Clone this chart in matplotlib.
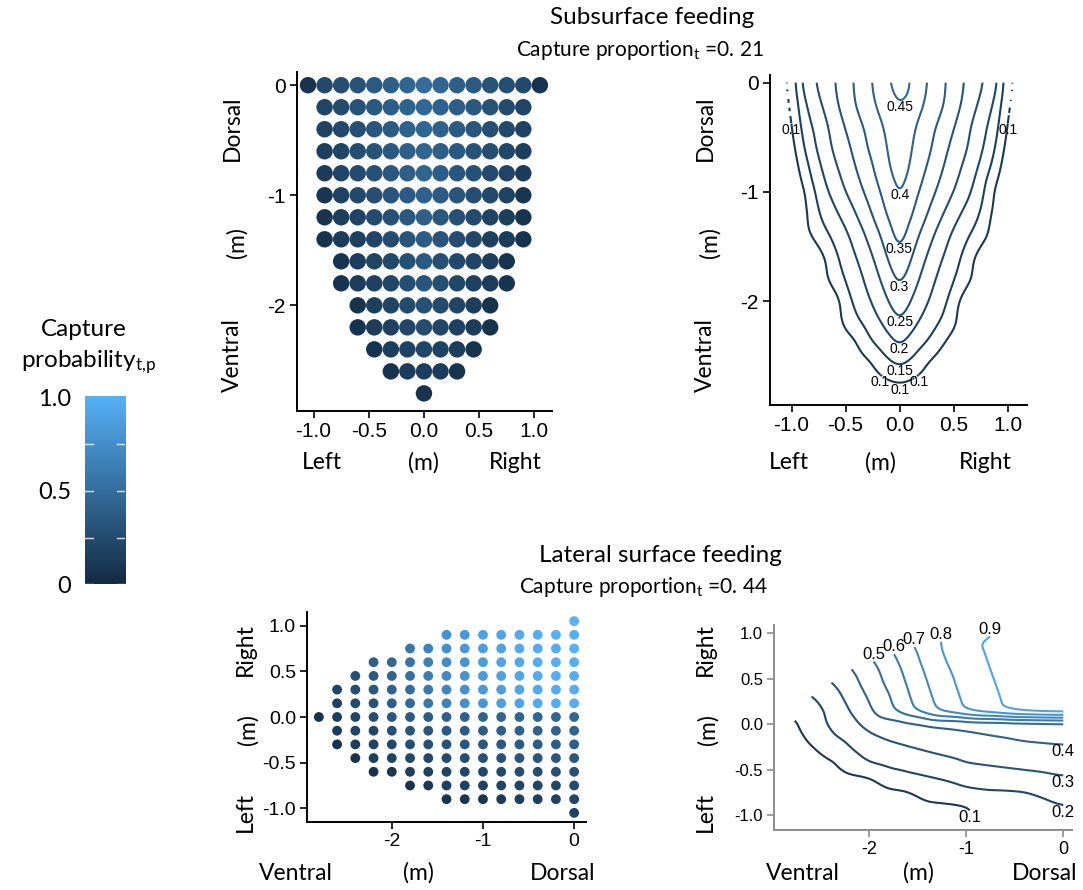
import matplotlib
matplotlib.use("Agg")
import matplotlib.pyplot as plt
import matplotlib.tri as mtri
from matplotlib.colors import LinearSegmentedColormap, Normalize
from matplotlib.path import Path
import numpy as np

N = None

# grid of prey positions around the mouth (m)
# depth: 0 = dorsal edge, negative = towards ventral
depth = [0.0, -0.2, -0.4, -0.6, -0.8, -1.0, -1.2, -1.4,
         -1.6, -1.8, -2.0, -2.2, -2.4, -2.6, -2.8]
# lateral: negative = left, positive = right
lateral = [-1.05, -0.9, -0.75, -0.6, -0.45, -0.3, -0.15, 0.0,
           0.15, 0.3, 0.45, 0.6, 0.75, 0.9, 1.05]

# capture probability, rows follow `depth`, columns follow `lateral`
subsurface_prob = [
    [0.06, 0.22, 0.26, 0.30, 0.345, 0.39, 0.43, 0.49, 0.43, 0.39, 0.345, 0.30, 0.26, 0.22, 0.06],
    [N, 0.19, 0.24, 0.29, 0.34, 0.38, 0.42, 0.45, 0.42, 0.38, 0.34, 0.29, 0.24, 0.19, N],
    [N, 0.17, 0.22, 0.27, 0.32, 0.36, 0.40, 0.44, 0.40, 0.36, 0.32, 0.27, 0.22, 0.17, N],
    [N, 0.15, 0.21, 0.26, 0.30, 0.35, 0.39, 0.435, 0.39, 0.35, 0.30, 0.26, 0.21, 0.15, N],
    [N, 0.12, 0.19, 0.24, 0.285, 0.33, 0.38, 0.425, 0.38, 0.33, 0.285, 0.24, 0.19, 0.12, N],
    [N, 0.08, 0.17, 0.22, 0.265, 0.31, 0.36, 0.41, 0.36, 0.31, 0.265, 0.22, 0.17, 0.08, N],
    [N, 0.07, 0.15, 0.19, 0.235, 0.285, 0.34, 0.395, 0.34, 0.285, 0.235, 0.19, 0.15, 0.07, N],
    [N, 0.07, 0.125, 0.16, 0.205, 0.255, 0.31, 0.375, 0.31, 0.255, 0.205, 0.16, 0.125, 0.07, N],
    [N, N, 0.07, 0.14, 0.185, 0.23, 0.285, 0.345, 0.285, 0.23, 0.185, 0.14, 0.07, N, N],
    [N, N, 0.07, 0.125, 0.165, 0.21, 0.26, 0.315, 0.26, 0.21, 0.165, 0.125, 0.07, N, N],
    [N, N, N, 0.07, 0.15, 0.19, 0.235, 0.285, 0.235, 0.19, 0.15, 0.07, N, N, N],
    [N, N, N, 0.07, 0.13, 0.165, 0.205, 0.25, 0.205, 0.165, 0.13, 0.07, N, N, N],
    [N, N, N, N, 0.07, 0.135, 0.17, 0.205, 0.17, 0.135, 0.07, N, N, N, N],
    [N, N, N, N, N, 0.07, 0.125, 0.155, 0.125, 0.07, N, N, N, N, N],
    [N, N, N, N, N, N, N, 0.07, N, N, N, N, N, N, N],
]

lateral_prob = [
    [0.17, 0.20, 0.235, 0.29, 0.335, 0.38, 0.42, 0.45, 0.97, 0.97, 0.98, 0.98, 0.99, 0.99, 1.0],
    [N, 0.18, 0.215, 0.27, 0.33, 0.375, 0.415, 0.445, 0.96, 0.97, 0.97, 0.98, 0.98, 0.99, N],
    [N, 0.16, 0.195, 0.26, 0.32, 0.37, 0.41, 0.44, 0.94, 0.95, 0.95, 0.96, 0.97, 0.97, N],
    [N, 0.15, 0.19, 0.25, 0.31, 0.36, 0.40, 0.43, 0.905, 0.91, 0.92, 0.93, 0.935, 0.94, N],
    [N, 0.12, 0.19, 0.24, 0.30, 0.35, 0.39, 0.43, 0.86, 0.87, 0.88, 0.89, 0.90, 0.91, N],
    [N, 0.09, 0.18, 0.23, 0.29, 0.34, 0.38, 0.42, 0.81, 0.82, 0.84, 0.85, 0.86, 0.88, N],
    [N, 0.08, 0.16, 0.205, 0.26, 0.32, 0.37, 0.41, 0.74, 0.76, 0.77, 0.79, 0.81, 0.82, N],
    [N, 0.07, 0.15, 0.19, 0.24, 0.30, 0.35, 0.40, 0.66, 0.68, 0.70, 0.72, 0.74, 0.76, N],
    [N, N, 0.09, 0.18, 0.22, 0.28, 0.33, 0.38, 0.565, 0.59, 0.61, 0.63, 0.655, N, N],
    [N, N, 0.07, 0.16, 0.21, 0.26, 0.31, 0.36, 0.47, 0.49, 0.52, 0.54, 0.57, N, N],
    [N, N, N, 0.09, 0.19, 0.23, 0.28, 0.33, 0.385, 0.41, 0.44, 0.46, N, N, N],
    [N, N, N, 0.07, 0.15, 0.185, 0.22, 0.27, 0.30, 0.33, 0.36, 0.39, N, N, N],
    [N, N, N, N, 0.07, 0.14, 0.18, 0.21, 0.22, 0.25, 0.29, N, N, N, N],
    [N, N, N, N, N, 0.07, 0.12, 0.15, 0.16, 0.19, N, N, N, N, N],
    [N, N, N, N, N, N, N, 0.07, N, N, N, N, N, N, N],
]

subsurface_proportion = "0. 21"
lateral_proportion = "0. 44"
subsurface_levels = [0.1, 0.15, 0.2, 0.25, 0.3, 0.35, 0.4, 0.45]
lateral_levels = [0.1, 0.2, 0.3, 0.4, 0.5, 0.6, 0.7, 0.8, 0.9]

W, H = 1083, 890
LABEL_FONT = "Lato"

plt.rcParams["font.family"] = ["Liberation Sans", "DejaVu Sans"]
plt.rcParams["axes.unicode_minus"] = False
plt.rcParams["mathtext.default"] = "regular"

cmap = LinearSegmentedColormap.from_list("gg", ["#132B43", "#56B1F7"])
norm = Normalize(0, 1)


def flatten(table):
    lat, dep, val = [], [], []
    for d, row in zip(depth, table):
        for l, v in zip(lateral, row):
            if v is not None:
                lat.append(l)
                dep.append(d)
                val.append(v)
    return np.array(lat), np.array(dep), np.array(val)


def box(left, top, right, bottom):
    # pixel box -> figure fraction rectangle
    return [left / W, 1 - bottom / H, (right - left) / W, (bottom - top) / H]


def ftext(fig, px, py, s, size, **kw):
    kw.setdefault("family", LABEL_FONT)
    fig.text(px / W, 1 - py / H, s, fontsize=size, ha="center", va="center", **kw)


def style(ax, color, size):
    for side in ("top", "right"):
        ax.spines[side].set_visible(False)
    for side in ("left", "bottom"):
        ax.spines[side].set_color(color)
        ax.spines[side].set_linewidth(1.4)
    ax.tick_params(color=color, labelcolor="black", labelsize=size,
                   length=5, width=1.2, pad=3)


def blur(a, sigma):
    r = int(3 * sigma)
    k = np.exp(-0.5 * (np.arange(-r, r + 1) / sigma) ** 2)
    k /= k.sum()
    a = np.apply_along_axis(lambda v: np.convolve(v, k, mode="same"), 0, a)
    return np.apply_along_axis(lambda v: np.convolve(v, k, mode="same"), 1, a)


def smooth_contour(ax, x, y, z, levels, sigma=5, n=220):
    # linear interpolation on a fine grid, lightly smoothed inside the hull
    tri = mtri.Triangulation(x, y)
    gx = np.linspace(x.min(), x.max(), n)
    gy = np.linspace(y.min(), y.max(), n)
    X, Y = np.meshgrid(gx, gy)
    Z = mtri.LinearTriInterpolator(tri, z)(X, Y)
    inside = ~np.ma.getmaskarray(Z)
    num = blur(np.where(inside, Z.filled(0.0), 0.0), sigma)
    den = blur(inside.astype(float), sigma)
    Zs = np.ma.masked_where(~inside, num / np.maximum(den, 1e-9))
    return ax.contour(X, Y, Zs, levels=levels, cmap=cmap, norm=norm,
                      linewidths=1.5)


def pieces(path):
    v, c = path.vertices, path.codes
    if c is None:
        return [v]
    starts = list(np.flatnonzero(c == Path.MOVETO)) + [len(v)]
    return [v[a:b] for a, b in zip(starts[:-1], starts[1:]) if b - a > 1]


def label_pieces(ax, cs, where, size, min_gap=18):
    # one horizontal label per contour piece, at its lowest / highest / right-most point
    placed = []
    for level, path in zip(cs.levels, cs.get_paths()):
        for seg in pieces(path):
            if len(seg) < 6:
                continue
            mode = where(level)
            if mode == "bottom":
                i, va = np.argmin(seg[:, 1]), "top"
            elif mode == "top":
                i, va = np.argmax(seg[:, 1]), "bottom"
            else:
                i, va = np.argmax(seg[:, 0]), "top"
            px = ax.transData.transform(seg[i])
            if any(np.hypot(*(px - q)) < min_gap for q in placed):
                continue
            placed.append(px)
            ax.text(seg[i, 0], seg[i, 1], f"{level:g}", fontsize=size,
                    ha="center", va=va, color="black")


fig = plt.figure(figsize=(W / 100, H / 100), dpi=100)

sub_lat, sub_dep, sub_val = flatten(subsurface_prob)
lat_lat, lat_dep, lat_val = flatten(lateral_prob)

# ---- subsurface feeding: scatter
ax = fig.add_axes(box(297, 72, 552, 411))
ax.scatter(sub_lat, sub_dep, c=sub_val, cmap=cmap, norm=norm, s=140, linewidths=0)
ax.set_xlim(-1.15, 1.16)
ax.set_ylim(-2.96, 0.12)
ax.set_xticks([-1.0, -0.5, 0.0, 0.5, 1.0], ["-1.0", "-0.5", "0.0", "0.5", "1.0"])
ax.set_yticks([0, -1, -2], ["0", "-1", "-2"])
style(ax, "black", 15)

# ---- subsurface feeding: contours
ax = fig.add_axes(box(770, 75, 1027, 405))
ax.set_xlim(-1.2, 1.18)
ax.set_ylim(-2.95, 0.07)
cs = smooth_contour(ax, sub_lat, sub_dep, sub_val, subsurface_levels)
label_pieces(ax, cs, lambda v: "bottom", 10)
ax.set_xticks([-1.0, -0.5, 0.0, 0.5, 1.0], ["-1.0", "-0.5", "0.0", "0.5", "1.0"])
ax.set_yticks([0, -1, -2], ["0", "-1", "-2"])
style(ax, "black", 15)

# ---- lateral surface feeding: scatter
ax = fig.add_axes(box(307, 612, 586, 822))
ax.scatter(lat_dep, lat_lat, c=lat_val, cmap=cmap, norm=norm, s=50, linewidths=0)
ax.set_xlim(-2.93, 0.13)
ax.set_ylim(-1.15, 1.15)
ax.set_xticks([-2, -1, 0], ["-2", "-1", "0"])
ax.set_yticks([-1.0, -0.5, 0.0, 0.5, 1.0], ["-1.0", "-0.5", "0.0", "0.5", "1.0"])
style(ax, "black", 14)

# ---- lateral surface feeding: contours
ax = fig.add_axes(box(774, 625, 1072, 830))
ax.set_xlim(-2.98, 0.09)
ax.set_ylim(-1.16, 1.09)
cs = smooth_contour(ax, lat_dep, lat_lat, lat_val, lateral_levels, sigma=4)
label_pieces(ax, cs, lambda v: "top" if v >= 0.5 else "right", 12)
ax.set_xticks([-2, -1, 0], ["-2", "-1", "0"])
ax.set_yticks([-1.0, -0.5, 0.0, 0.5, 1.0], ["-1.0", "-0.5", "0.0", "0.5", "1.0"])
style(ax, "#8c8c8c", 13)
ax.tick_params(axis="y", labelsize=12)

# ---- colour bar
cax = fig.add_axes(box(85, 388, 125, 590))
grad = np.linspace(0, 1, 256).reshape(-1, 1)
cax.imshow(grad, cmap=cmap, norm=norm, origin="lower", aspect="auto",
           extent=(0, 1, 0, 1))
cax.set_xlim(0, 1)
cax.set_ylim(-0.03, 1.05)
for v in [0, 0.25, 0.5, 0.75]:
    cax.plot([0, 0.2], [v, v], color="white", lw=1, alpha=0.8)
    cax.plot([0.8, 1], [v, v], color="white", lw=1, alpha=0.8)
cax.set_xticks([])
cax.set_yticks([0, 0.5, 1.0], ["0", "0.5", "1.0"])
cax.tick_params(length=0, pad=10, labelsize=17)
for t in cax.get_yticklabels():
    t.set_family(LABEL_FONT)
for s in cax.spines.values():
    s.set_visible(False)
ftext(fig, 84, 330, "Capture", 17.5)
ftext(fig, 88, 362, "probability$_{t{,}p}$", 17.5)

# ---- titles
ftext(fig, 652, 18, "Subsurface feeding", 17.5)
ftext(fig, 640, 50, "Capture proportion$_t$ =" + subsurface_proportion, 15)
ftext(fig, 660, 556, "Lateral surface feeding", 17.5)
ftext(fig, 643, 587, "Capture proportion$_t$ =" + lateral_proportion, 15)

# ---- axis captions
for x0 in (232, 705):
    ftext(fig, x0, 128, "Dorsal", 16.5, rotation=90)
    ftext(fig, x0 + 5, 243, "(m)", 16.5, rotation=90)
    ftext(fig, x0, 355, "Ventral", 16.5, rotation=90)
for xs in ((322, 423, 515), (789, 880, 985)):
    ftext(fig, xs[0], 463, "Left", 16.5)
    ftext(fig, xs[1], 463, "(m)", 16.5)
    ftext(fig, xs[2], 463, "Right", 16.5)
for x0 in (245, 705):
    ftext(fig, x0, 650, "Right", 16.5, rotation=90)
    ftext(fig, x0 + 3, 730, "(m)", 16.5, rotation=90)
    ftext(fig, x0, 812, "Left", 16.5, rotation=90)
for xs in ((296, 418, 563), (803, 918, 1045)):
    ftext(fig, xs[0], 873, "Ventral", 16.5)
    ftext(fig, xs[1], 873, "(m)", 16.5)
    ftext(fig, xs[2], 873, "Dorsal", 16.5)

fig.savefig("out.png", dpi=100)
